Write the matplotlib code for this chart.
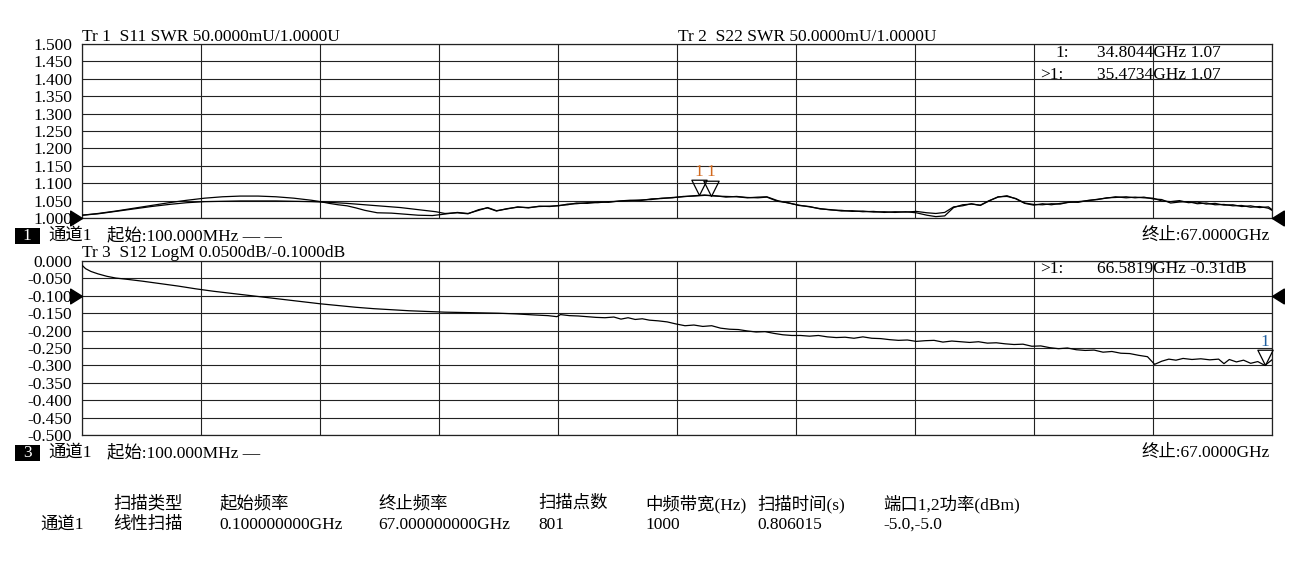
import numpy as np
import matplotlib
matplotlib.use('Agg')
import matplotlib.pyplot as plt
from matplotlib.path import Path
from matplotlib.patches import Rectangle

W, H = 1300, 570

# S11 / S22 SWR traces (GHz, SWR)
S11_GHZ = [0.1, 1, 2, 3, 4, 5, 6, 7, 8, 9, 10, 11, 12, 13, 13.5, 14, 14.5, 15, 15.5, 16, 16.7, 17.5,
           18, 19, 19.8, 20.3, 21.2, 21.8, 22.4, 22.9, 23.4, 24.0, 24.6, 25.2, 25.8, 26.4, 26.9, 27.4,
           27.9, 28.5, 29.1, 29.7, 30.3, 30.9, 31.5, 32.1, 32.7, 33.3, 33.9, 34.5, 35.1, 35.7, 36.3,
           36.9, 37.5, 38.1, 38.6, 39.2, 39.8, 40.4, 41.0, 41.6, 42.2, 42.8, 43.4, 44.0, 44.6, 45.2,
           45.8, 46.4, 47.0, 47.6, 48.1, 48.6, 49.1, 49.6, 50.1, 50.6, 51.1, 51.6, 52.1, 52.6, 53.1,
           53.6, 54.1, 54.6, 55.1, 55.6, 56.1, 56.7, 57.2, 57.7, 58.2, 58.8, 59.3, 59.8, 60.3, 60.8,
           61.3, 61.8, 62.3, 62.8, 63.3, 63.8, 64.3, 64.8, 65.3, 65.8, 66.3, 66.8, 67.0]
S11_SWR = [1.008, 1.013, 1.020, 1.028, 1.036, 1.044, 1.051, 1.057, 1.061, 1.063, 1.063, 1.061, 1.057,
           1.051, 1.047, 1.042, 1.038, 1.035, 1.029, 1.022, 1.015, 1.014, 1.012, 1.008, 1.007, 1.010,
           1.016, 1.013, 1.022, 1.030, 1.021, 1.026, 1.032, 1.029, 1.034, 1.033, 1.036, 1.038, 1.043,
           1.042, 1.046, 1.045, 1.049, 1.051, 1.050, 1.055, 1.056, 1.059, 1.061, 1.064, 1.066, 1.063,
           1.062, 1.061, 1.058, 1.060, 1.061, 1.050, 1.043, 1.037, 1.032, 1.027, 1.023, 1.022, 1.019,
           1.020, 1.017, 1.018, 1.016, 1.018, 1.015, 1.008, 1.004, 1.006, 1.030, 1.038, 1.040, 1.037,
           1.050, 1.060, 1.064, 1.055, 1.042, 1.037, 1.041, 1.038, 1.042, 1.045, 1.047, 1.050, 1.054,
           1.057, 1.061, 1.058, 1.060, 1.058, 1.057, 1.049, 1.047, 1.050, 1.044, 1.046, 1.040, 1.042,
           1.037, 1.038, 1.033, 1.035, 1.030, 1.032, 1.024]

S22_GHZ = [0.1, 1, 2, 3, 4, 5, 6, 7, 8, 9, 10, 11, 12, 13, 14, 15, 16, 17, 18, 19, 20, 20.5, 21.2,
           21.8, 22.4, 22.9, 23.4, 24.0, 24.6, 25.2, 25.8, 26.4, 26.9, 27.4, 27.9, 28.5, 29.1, 29.7,
           30.3, 30.9, 31.5, 32.1, 32.7, 33.3, 33.9, 34.5, 35.1, 35.7, 36.3, 36.9, 37.5, 38.1, 38.6,
           39.2, 39.8, 40.4, 41.0, 41.6, 42.2, 42.8, 43.4, 44.0, 44.6, 45.2, 45.8, 46.4, 47.0, 47.6,
           48.1, 48.6, 49.1, 49.6, 50.1, 50.6, 51.1, 51.6, 52.1, 52.6, 53.1, 53.6, 54.1, 54.6, 55.1,
           55.6, 56.1, 56.7, 57.2, 57.7, 58.2, 58.8, 59.3, 59.8, 60.3, 60.8, 61.3, 61.8, 62.3, 62.8,
           63.3, 63.8, 64.3, 64.8, 65.3, 65.8, 66.3, 66.8, 67.0]
S22_SWR = [1.008, 1.012, 1.019, 1.026, 1.033, 1.039, 1.044, 1.047, 1.048, 1.049, 1.049, 1.049, 1.048,
           1.047, 1.045, 1.042, 1.038, 1.034, 1.030, 1.024, 1.018, 1.013, 1.015, 1.012, 1.024, 1.029,
           1.020, 1.027, 1.031, 1.030, 1.033, 1.034, 1.035, 1.040, 1.041, 1.044, 1.044, 1.047, 1.048,
           1.050, 1.052, 1.053, 1.057, 1.058, 1.062, 1.063, 1.065, 1.064, 1.060, 1.062, 1.059, 1.058,
           1.060, 1.048, 1.044, 1.036, 1.033, 1.026, 1.024, 1.020, 1.021, 1.018, 1.019, 1.016, 1.018,
           1.017, 1.019, 1.015, 1.013, 1.016, 1.032, 1.035, 1.041, 1.036, 1.049, 1.061, 1.062, 1.056,
           1.043, 1.039, 1.038, 1.041, 1.040, 1.046, 1.045, 1.051, 1.053, 1.058, 1.059, 1.061, 1.058,
           1.060, 1.055, 1.053, 1.043, 1.046, 1.047, 1.041, 1.043, 1.038, 1.039, 1.035, 1.036, 1.031,
           1.033, 1.028, 1.022]

# S12 LogM trace (GHz, dB)
S12_GHZ = [0.1, 0.3, 0.6, 1.0, 1.5, 2.0, 2.7, 3.5, 4.5, 5.5, 6.5, 7.5, 8.5, 9.5, 10.5, 11.5, 12.5,
           13.5, 14.5, 15.5, 16.5, 17.5, 18.5, 19.5, 20.5, 21.5, 22.5, 23.5, 24.5, 25.5, 26.3, 26.8,
           27.0, 27.5, 28.0, 28.5, 29.0, 29.5, 30.0, 30.4, 30.8, 31.2, 31.6, 32.0, 32.5, 33.0, 33.5,
           34.0, 34.5, 35.0, 35.5, 36.0, 36.5, 37.0, 37.5, 38.0, 38.5, 39.0, 39.5, 40.0, 40.5, 41.0,
           41.5, 42.0, 42.5, 43.0, 43.5, 44.0, 44.5, 45.0, 45.5, 46.0, 46.5, 47.0, 47.5, 48.0, 48.5,
           49.0, 49.5, 50.0, 50.5, 51.0, 51.5, 52.0, 52.5, 53.0, 53.5, 54.0, 54.5, 55.0, 55.5, 56.0,
           56.5, 57.0, 57.5, 58.0, 58.5, 59.0, 59.5, 60.0, 60.4, 60.8, 61.2, 61.6, 62.0, 62.5, 63.0,
           63.5, 64.0, 64.3, 64.6, 65.0, 65.4, 65.8, 66.2, 66.6, 67.0]
S12_DB = [-0.012, -0.022, -0.030, -0.037, -0.044, -0.049, -0.053, -0.058, -0.065, -0.072, -0.080,
          -0.087, -0.093, -0.099, -0.105, -0.111, -0.117, -0.123, -0.128, -0.133, -0.137, -0.140,
          -0.143, -0.145, -0.147, -0.148, -0.149, -0.150, -0.152, -0.155, -0.157, -0.160, -0.154,
          -0.157, -0.158, -0.160, -0.162, -0.163, -0.161, -0.167, -0.163, -0.168, -0.166, -0.170,
          -0.172, -0.175, -0.181, -0.186, -0.184, -0.188, -0.186, -0.193, -0.196, -0.197, -0.201,
          -0.204, -0.203, -0.208, -0.212, -0.214, -0.214, -0.216, -0.214, -0.218, -0.220, -0.219,
          -0.222, -0.218, -0.222, -0.223, -0.226, -0.228, -0.227, -0.231, -0.229, -0.228, -0.233,
          -0.230, -0.232, -0.234, -0.232, -0.236, -0.235, -0.238, -0.240, -0.239, -0.245, -0.244,
          -0.249, -0.252, -0.250, -0.255, -0.257, -0.256, -0.262, -0.260, -0.265, -0.266, -0.271,
          -0.275, -0.297, -0.288, -0.282, -0.285, -0.280, -0.283, -0.281, -0.284, -0.282, -0.295,
          -0.283, -0.290, -0.285, -0.294, -0.289, -0.300, -0.284]

MARKER_S11 = 34.8044
MARKER_S22 = 35.4734
MARKER_S12 = 66.5819

TOP_TICKS = [1.500, 1.450, 1.400, 1.350, 1.300, 1.250, 1.200, 1.150, 1.100, 1.050, 1.000]
BOT_TICKS = [0.000, -0.050, -0.100, -0.150, -0.200, -0.250, -0.300, -0.350, -0.400, -0.450, -0.500]

TABLE_HEAD = ['扫描类型', '起始频率', '终止频率', '扫描点数', '中频带宽(Hz)', '扫描时间(s)', '端口1,2功率(dBm)']
TABLE_ROW = ['线性扫描', '0.100000000GHz', '67.000000000GHz', '801', '1000', '0.806015', '-5.0,-5.0']
TABLE_X = [113, 219, 378, 538, 645, 757, 883]

plt.rcParams['font.family'] = ['Liberation Serif', 'Noto Sans CJK SC']
FS = 12.5


def fxy(x, y):
    # pixel -> figure fraction
    return x / W, 1 - y / H


def tri(direction):
    if direction == 'right':
        verts = [(0, 0), (-1.6, 1), (-1.6, -1), (0, 0)]
    elif direction == 'left':
        verts = [(0, 0), (1.6, 1), (1.6, -1), (0, 0)]
    else:  # marker, tip at point
        verts = [(0, 0), (-1, 2), (1, 2), (0, 0)]
    return Path(verts, [Path.MOVETO, Path.LINETO, Path.LINETO, Path.CLOSEPOLY])


def setup_axes(ax, ticks):
    ax.set_xlim(0.1, 67)
    ax.set_ylim(min(ticks), max(ticks))
    ax.set_xticks(np.linspace(0.1, 67, 11))
    ax.set_xticklabels([])
    ax.set_yticks(ticks)
    ax.set_yticklabels(['{:.3f}'.format(t) for t in ticks], fontsize=FS)
    ax.tick_params(length=0, pad=7)
    ax.grid(True, color='#222222', lw=0.8)
    for s in ax.spines.values():
        s.set_color('#222222')
        s.set_linewidth(0.9)


def status_line(fig, y, box, dashes):
    x0, y0 = fxy(15, y + 8)
    fig.add_artist(Rectangle((x0, y0), 25 / W, 16 / H, transform=fig.transFigure,
                             facecolor='black', edgecolor='none'))
    fig.text(*fxy(27, y), box, color='white', fontsize=FS, ha='center', va='center')
    fig.text(*fxy(48, y), '通道1', fontsize=FS, va='center')
    fig.text(*fxy(107, y), '起始:100.000MHz ' + dashes, fontsize=FS, va='center')
    fig.text(*fxy(1270, y), '终止:67.0000GHz', fontsize=FS, va='center', ha='right')


def main():
    fig = plt.figure(figsize=(W / 100, H / 100), dpi=100)
    ax1 = fig.add_axes([82 / W, 1 - 218 / H, 1190 / W, 174 / H])
    ax2 = fig.add_axes([82 / W, 1 - 435 / H, 1190 / W, 174 / H])
    setup_axes(ax1, TOP_TICKS)
    setup_axes(ax2, BOT_TICKS)

    ax1.plot(S11_GHZ, S11_SWR, color='black', lw=0.9, zorder=3)
    ax1.plot(S22_GHZ, S22_SWR, color='black', lw=0.9, zorder=3)
    ax2.plot(S12_GHZ, S12_DB, color='black', lw=0.9, zorder=3)

    # marker triangles
    for f, xs, ys in [(MARKER_S11, S11_GHZ, S11_SWR), (MARKER_S22, S22_GHZ, S22_SWR)]:
        v = np.interp(f, xs, ys)
        ax1.plot([f], [v], marker=tri('down'), ms=22, mfc='none', mec='black', mew=0.9, zorder=4)
        ax1.annotate('1', (f, v), xytext=(0, 11), textcoords='offset points', ha='center',
                     va='bottom', color='#d2691e', fontsize=FS)
    v = np.interp(MARKER_S12, S12_GHZ, S12_DB)
    ax2.plot([MARKER_S12], [v], marker=tri('down'), ms=22, mfc='none', mec='black', mew=0.9,
             zorder=4, clip_on=False)
    ax2.annotate('1', (MARKER_S12, v), xytext=(0, 11), textcoords='offset points', ha='center',
                 va='bottom', color='#1f5fa0', fontsize=FS)

    # reference level arrows
    for ax, ref in [(ax1, 1.0), (ax2, -0.1)]:
        ax.plot([0.1], [ref], marker=tri('right'), ms=17, color='black', clip_on=False, zorder=5)
        ax.plot([67], [ref], marker=tri('left'), ms=17, color='black', clip_on=False, zorder=5)

    # trace titles
    fig.text(*fxy(82, 37), 'Tr 1  S11 SWR 50.0000mU/1.0000U', fontsize=FS, va='center')
    fig.text(*fxy(678, 37), 'Tr 2  S22 SWR 50.0000mU/1.0000U', fontsize=FS, va='center')
    fig.text(*fxy(82, 253), 'Tr 3  S12 LogM 0.0500dB/-0.1000dB', fontsize=FS, va='center')

    # marker readouts
    fig.text(*fxy(1055, 53), '1:', fontsize=FS, va='center')
    fig.text(*fxy(1097, 53), '34.8044GHz 1.07', fontsize=FS, va='center')
    fig.text(*fxy(1040, 75), '>1:', fontsize=FS, va='center')
    fig.text(*fxy(1097, 75), '35.4734GHz 1.07', fontsize=FS, va='center')
    fig.text(*fxy(1040, 269), '>1:', fontsize=FS, va='center')
    fig.text(*fxy(1097, 269), '66.5819GHz -0.31dB', fontsize=FS, va='center')

    status_line(fig, 236, '1', '— —')
    status_line(fig, 453, '3', '—')

    # channel settings table
    for x, head, val in zip(TABLE_X, TABLE_HEAD, TABLE_ROW):
        fig.text(*fxy(x, 504), head, fontsize=FS, va='center')
        fig.text(*fxy(x, 525), val, fontsize=FS, va='center')
    fig.text(*fxy(40, 525), '通道1', fontsize=FS, va='center')

    fig.savefig('out.png', dpi=100, facecolor='white')


if __name__ == '__main__':
    main()
